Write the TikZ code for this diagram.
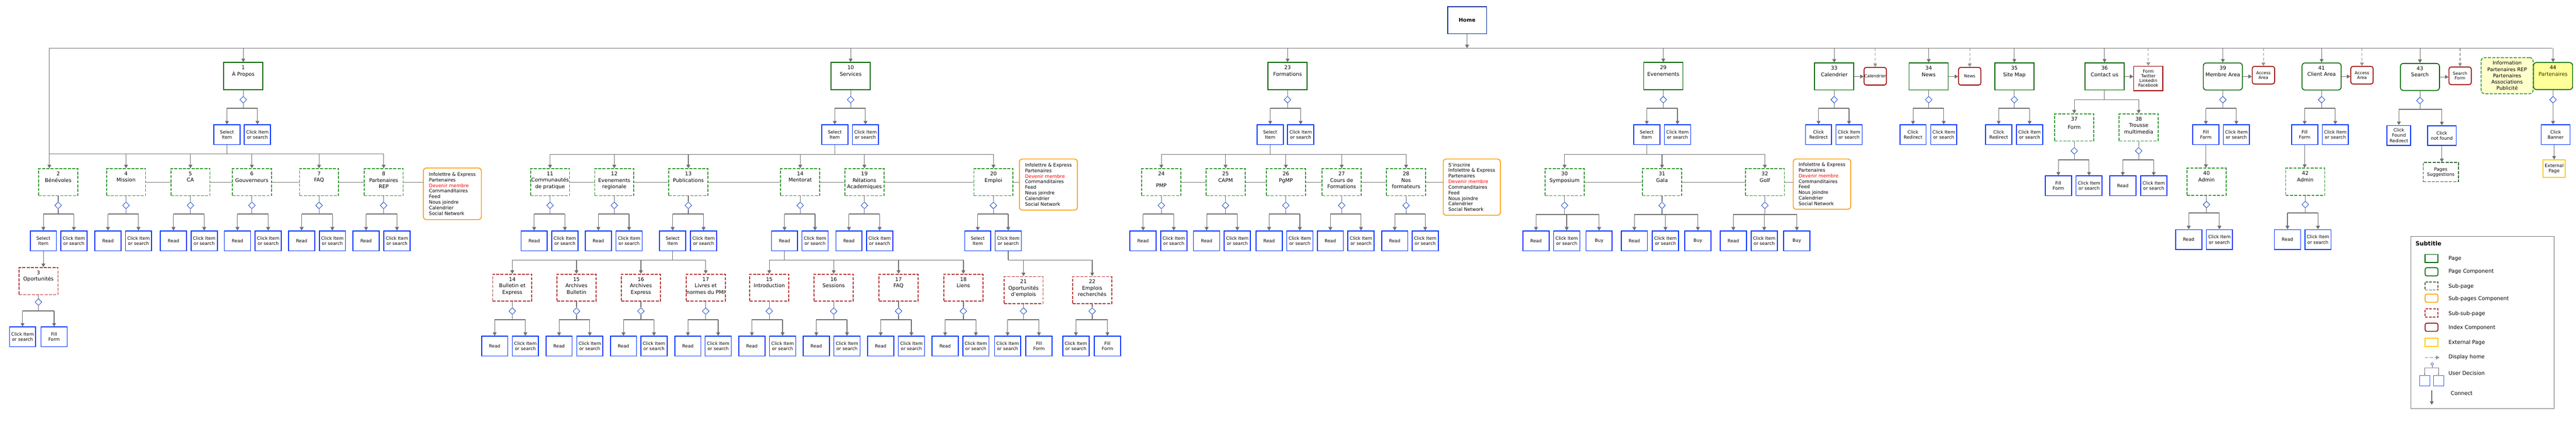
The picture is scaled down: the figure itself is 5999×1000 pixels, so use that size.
\documentclass[tikz,border=0pt]{standalone}
\usepackage{fontspec}
\setmainfont{DejaVu Sans}
\usetikzlibrary{arrows.meta,shapes.geometric}
\definecolor{lgray}{HTML}{6E6E6E}
\definecolor{pgreen}{HTML}{006600}
\definecolor{sgreen}{HTML}{339933}
\definecolor{sred}{HTML}{B83333}
\definecolor{ired}{HTML}{990000}
\definecolor{ablue}{HTML}{0033FF}
\definecolor{dblue}{HTML}{1F4FC8}
\definecolor{hblue}{HTML}{003399}
\definecolor{orng}{HTML}{FF9900}
\definecolor{extc}{HTML}{FFCC00}
\definecolor{pyel}{HTML}{FFFF99}
\definecolor{iyel}{HTML}{FFFFCC}
\definecolor{dgreen}{HTML}{336633}
\definecolor{lgreen}{HTML}{4A6B4A}
\definecolor{olv}{HTML}{333300}
\newcommand\CIs{Click Item\\or search}
\newcommand\SIs{Select\\Item}
\newcommand\FFs{Fill\\Form}
\newcommand\CRs{Click\\Redirect}
\newcommand\orntxt{Infolettre \& Express\\Partenaires\\\textcolor{red}{Devenir membre}\\Commanditaires\\Feed\\Nous joindre\\Calendrier\\Social Network}
\newcommand\bx[5]{\node[#1] (#2) at (#3,#4) {}; \node[ttl] (#2t) at ([yshift=-8pt]#2.north) {#5};}
\newcommand\ac[5][]{\node[act,#1] (#2) at (#3,#4) {#5};}
\newcommand\grp[4]{%
  \node[dia] (#1d) at (#1.south |- 0,#2) {};
  \coordinate (#1b) at (#1.south |- 0,#3);
  \draw[con] (#1.south) -- (#1d.north);
  \draw[con] (#1d.south) -- (#1b);
  \foreach \ch in {#4} {\draw[barl] (#1b) -- (\ch.north |- #1b); \draw[arr] (\ch.north |- #1b) -- (\ch.north);}
}
\newcommand\busl[4]{%
  \coordinate (#4) at (#1.south |- 0,#2);
  \draw[con] (#1.south) -- (#4);
  \foreach \ch in {#3} {\draw[con] (#4) -- (\ch.north |- #4); \draw[arr] (\ch.north |- #4) -- (\ch.north);}
}
\begin{document}
\begin{tikzpicture}[x=1pt,y=-1pt,
  con/.style={draw=lgray, line width=1.4pt},
  arr/.style={con, -{Triangle[length=8pt,width=9pt]}},
  barl/.style={draw=lgray, line width=2.4pt},
  dsh/.style={draw=lgray!75, line width=1.4pt, dash pattern=on 7pt off 4pt, -{Triangle[length=8pt,width=9pt]}},
  dia/.style={diamond, draw=dblue, line width=1.1pt, fill=white, minimum width=16pt, minimum height=16pt, inner sep=0pt},
  pg/.style={draw=pgreen, line width=2pt, minimum width=91pt, minimum height=63pt, inner sep=0pt},
  pgr/.style={pg, rounded corners=7pt},
  sub/.style={pg, draw=sgreen, dash pattern=on 7pt off 3pt},
  ssub/.style={pg, draw=sred, dash pattern=on 7pt off 3pt},
  act/.style={draw=ablue, line width=2pt, minimum width=61pt, minimum height=46pt, inner sep=1pt, align=center, font=\fontsize{10.5}{12.3}\selectfont},
  ttl/.style={anchor=north, align=center, inner sep=0pt, font=\fontsize{12}{15}\selectfont},
  idx/.style={draw=ired, line width=2pt, rounded corners=5pt, minimum width=52pt, minimum height=41pt, inner sep=0pt, align=center, font=\fontsize{9.8}{10.8}\selectfont},
  orn/.style={draw=orng, line width=2pt, rounded corners=7pt, inner sep=0pt, align=left, font=\fontsize{11}{13}\selectfont},
  lsw/.style={line width=2pt, minimum width=30pt, minimum height=19pt, inner sep=0pt},
  ltx/.style={anchor=west, inner sep=0pt, font=\fontsize{12.3}{14}\selectfont}]
\useasboundingbox (0,0) rectangle (5999,1000);

% ---------- Home and top bus
\node[pg, draw=hblue, font=\bfseries\fontsize{12}{14}\selectfont] (home) at (3416.5,47) {Home};
\coordinate (busL) at (115,112);
\coordinate (busR) at (5944,112);
\draw[con] (busL) -- (busR);
\draw[arr] (home.south) -- (home.south |- busL);

% ---------- top level pages
\bx{pg}{p1}{566.5}{177}{1\\À Propos}
\bx{pg}{p10}{1981}{177}{10\\Services}
\bx{pg}{p23}{2998.5}{177}{23\\Formations}
\bx{pg}{p29}{3873.5}{177}{29\\Evenements}
\bx{pg}{p33}{4271.5}{178}{33\\Calendrier}
\bx{pg}{p34}{4491.5}{178}{34\\News}
\bx{pg}{p35}{4691}{178}{35\\Site Map}
\bx{pg}{p36}{4901}{178}{36\\Contact us}
\bx{pgr}{p39}{5176.5}{178}{39\\Membre Area}
\bx{pgr}{p41}{5406.5}{178}{41\\Client Area}
\bx{pgr}{p43}{5635.5}{179}{43\\Search}
\bx{pgr,fill=pyel}{p44}{5945.5}{177}{44\\\textcolor{olv}{Partenaires}}
\foreach \pp in {p1,p10,p23,p29,p33,p34,p35,p36,p39,p41,p43,p44}
  {\draw[arr] (\pp.north |- busL) -- (\pp.north);}

% index components
\node[idx] (i33) at (4367,177.5) {Calendrier};
\node[idx] (i34) at (4587,177.5) {News};
\node[idx, rounded corners=0pt, minimum width=68pt, minimum height=57pt, font=\fontsize{10}{11.1}\selectfont] (i36) at (5003,182.5) {Form\\Twitter\\Linkedin\\Facebook};
\node[idx] (i39) at (5271,175) {Access\\Area};
\node[idx] (i41) at (5500.5,175) {Access\\Area};
\node[idx] (i43) at (5729,176.5) {Search\\Form};
\foreach \pa/\pb in {p33/i33,p34/i34,p36/i36,p39/i39,p41/i41,p43/i43}
  {\draw[arr] (\pa.east) -- (\pa.east -| \pb.west); \draw[dsh] (\pb.north |- busL) -- (\pb.north);}

% information box
\node[draw=sgreen, fill=iyel, line width=2pt, dash pattern=on 7pt off 3pt, rounded corners=8pt, minimum width=121pt, minimum height=84pt, align=center, inner sep=0pt, font=\fontsize{11.7}{14.6}\selectfont] (info) at (5838.5,176) {Information\\Partenaires REP\\Partenaires\\Associations\\Publicité};

% ---------- top level decisions
\ac{a1s}{528.5}{313.5}{\SIs} \ac{a1c}{599.5}{313.5}{\CIs} \grp{p1}{232}{252}{a1s,a1c}
\ac{a10s}{1944}{313.5}{\SIs} \ac{a10c}{2015.5}{313.5}{\CIs} \grp{p10}{232}{252}{a10s,a10c}
\ac{a23s}{2958}{313.5}{\SIs} \ac{a23c}{3029}{313.5}{\CIs} \grp{p23}{232}{252}{a23s,a23c}
\ac{a29s}{3835}{313.5}{\SIs} \ac{a29c}{3906.5}{313.5}{\CIs} \grp{p29}{232}{252}{a29s,a29c}
\ac{a33r}{4235}{313.5}{\CRs} \ac{a33c}{4306}{313.5}{\CIs} \grp{p33}{232}{252}{a33r,a33c}
\ac{a34r}{4455}{313.5}{\CRs} \ac{a34c}{4526.5}{313.5}{\CIs} \grp{p34}{232}{252}{a34r,a34c}
\ac{a35r}{4654.5}{313.5}{\CRs} \ac{a35c}{4726.5}{313.5}{\CIs} \grp{p35}{232}{252}{a35r,a35c}
\ac{a39f}{5137}{313.5}{\FFs} \ac{a39c}{5208}{313.5}{\CIs} \grp{p39}{232}{252}{a39f,a39c}
\ac{a41f}{5367}{313.5}{\FFs} \ac{a41c}{5438.5}{313.5}{\CIs} \grp{p41}{232}{252}{a41f,a41c}
\ac[minimum width=55pt]{a43f}{5586.5}{315}{Click\\Found\\Redirect}
\ac[minimum width=67pt]{a43n}{5686.5}{315.5}{Click\\not found}
\grp{p43}{234}{254}{a43f,a43n}

% Partenaires
\node[dia] (p44d) at (p44.south |- 0,232) {};
\draw[con] (p44.south) -- (p44d.north);
\ac[minimum width=67pt]{a44}{5951.5}{313.5}{Click\\Banner}
\draw[arr] (p44d.south) -- (p44d.south |- a44.north);
\node[draw=extc, line width=2pt, minimum width=52pt, minimum height=41pt, inner sep=0pt, align=center, font=\fontsize{10.5}{12}\selectfont] (ext44) at (5948,392.5) {External\\Page};
\draw[arr] (ext44.north |- a44.south) -- (ext44.north);

% Search suggestions
\node[draw=dgreen, line width=2pt, dash pattern=on 7pt off 3pt, minimum width=82pt, minimum height=45pt, inner sep=0pt, align=center, font=\fontsize{10.5}{12}\selectfont] (psug) at (5684,400.5) {Pages\\Suggestions};
\draw[arr] (a43n.south) -- (a43n.south |- psug.north);

% Contact us
\bx{sub}{s37}{4830.5}{296.5}{37\\[4pt]Form}
\bx{sub}{s38}{4980.5}{296.5}{38\\Trousse\\multimedia}
\coordinate (p36b) at (p36.south |- 0,232);
\draw[con] (p36.south) -- (p36b);
\foreach \ch in {s37,s38} {\draw[con] (p36b) -- (\ch.north |- p36b); \draw[arr] (\ch.north |- p36b) -- (\ch.north);}
\ac{a37f}{4793.5}{432.5}{\FFs} \ac{a37c}{4865}{432.5}{\CIs} \grp{s37}{351}{372}{a37f,a37c}
\ac{a38r}{4943.5}{432.5}{Read} \ac{a38c}{5015.5}{432.5}{\CIs} \grp{s38}{351}{372}{a38r,a38c}

% Admin pages
\bx{sub}{u40}{5138.5}{423}{40\\Admin}
\bx{sub}{u42}{5368.5}{423}{42\\Admin}
\draw[arr] (a39f.south) -- (a39f.south |- u40.north);
\draw[arr] (a41f.south) -- (a41f.south |- u42.north);
\ac{a40r}{5097}{557.5}{Read} \ac{a40c}{5168.5}{557.5}{\CIs} \grp{u40}{476}{496}{a40r,a40c}
\ac{a42r}{5327}{557.5}{Read} \ac{a42c}{5398}{557.5}{\CIs} \grp{u42}{476}{496}{a42r,a42c}

% ---------- second level pages
\bx{sub}{p2}{135.5}{424}{2\\Bénévoles}
\bx{sub}{p4}{293.5}{424}{4\\Mission}
\bx{sub}{p5}{443.5}{424}{5\\CA}
\bx{sub}{p6}{586.5}{424}{6\\Gouverneurs}
\bx{sub}{p7}{743}{424}{7\\FAQ}
\bx{sub}{p8}{893.5}{424}{8\\Partenaires\\REP}
\bx{sub}{p11}{1281}{424}{11\\Communautés\\de pratique}
\bx{sub}{p12}{1430.5}{424}{12\\Evenements\\regionale}
\bx{sub}{p13}{1603}{424}{13\\Publications}
\bx{sub}{p14}{1863.5}{424}{14\\Mentorat}
\bx{sub}{p19}{2013}{424}{19\\Rélations\\Academiques}
\bx{sub}{p20}{2313.5}{424}{20\\Emploi}
\bx{sub}{p24}{2704.5}{424}{24\\[12pt]PMP}
\bx{sub}{p25}{2854}{424}{25\\CAPM}
\bx{sub}{p26}{2994.5}{424}{26\\PgMP}
\bx{sub}{p27}{3124.5}{424}{27\\Cours de\\Formations}
\bx{sub}{p28}{3274.5}{424}{28\\Nos\\formateurs}
\bx{sub}{p30}{3643.5}{424}{30\\Symposium}
\bx{sub}{p31}{3870.5}{424}{31\\Gala}
\bx{sub}{p32}{4110}{424}{32\\Golf}

\node[orn, minimum width=135pt, minimum height=120pt] (o1) at (1053.5,451) {\orntxt};
\node[orn, minimum width=135pt, minimum height=119pt] (o2) at (2441.5,429.5) {\orntxt};
\node[orn, minimum width=133pt, minimum height=131pt] (o3) at (3427.5,435.5) {S’inscrire\\\orntxt};
\node[orn, minimum width=134pt, minimum height=117pt] (o4) at (4243,428.5) {\orntxt};

% buses to second level
\coordinate (bus1) at (a1s.south |- 0,358);
\draw[con] (a1s.south) -- (bus1);
\draw[con] (bus1) -- (busL |- bus1);
\draw[arr] (busL) -- (busL |- p2.north);
\foreach \ch in {p4,p5,p6,p7,p8} {\draw[con] (bus1) -- (\ch.north |- bus1); \draw[arr] (\ch.north |- bus1) -- (\ch.north);}
\busl{a10s}{359}{p11,p12,p13,p14,p19,p20}{bus10}
\busl{a23s}{359}{p24,p25,p26,p27,p28}{bus23}
\busl{a29s}{359}{p30,p31,p32}{bus29}

\foreach \pa/\pb in {p4/p5,p5/p6,p6/p7,p7/p8,p8/o1,p11/p12,p12/p13,p13/p14,p14/p19,p19/p20,p20/o2,p24/p25,p25/p26,p26/p27,p27/p28,p28/o3,p30/p31,p31/p32,p32/o4}
  {\draw[con] (\pa.east) -- (\pa.east -| \pb.west);}

% second level decisions
\ac{a2s}{101}{560.5}{\SIs} \ac{a2c}{172}{560.5}{\CIs} \grp{p2}{478}{498}{a2s,a2c}
\ac{a4r}{251.5}{560.5}{Read} \ac{a4c}{322.5}{560.5}{\CIs} \grp{p4}{478}{498}{a4r,a4c}
\ac{a5r}{404}{560.5}{Read} \ac{a5c}{475.5}{560.5}{\CIs} \grp{p5}{478}{498}{a5r,a5c}
\ac{a6r}{553}{560.5}{Read} \ac{a6c}{624.5}{560.5}{\CIs} \grp{p6}{478}{498}{a6r,a6c}
\ac{a7r}{702.5}{560.5}{Read} \ac{a7c}{774}{560.5}{\CIs} \grp{p7}{478}{498}{a7r,a7c}
\ac{a8r}{852.5}{560.5}{Read} \ac{a8c}{924.5}{560.5}{\CIs} \grp{p8}{478}{498}{a8r,a8c}
\ac{a11r}{1244}{560.5}{Read} \ac{a11c}{1315.5}{560.5}{\CIs} \grp{p11}{478}{498}{a11r,a11c}
\ac{a12r}{1393.5}{560.5}{Read} \ac{a12c}{1465}{560.5}{\CIs} \grp{p12}{478}{498}{a12r,a12c}
\ac{a13s}{1566.5}{560.5}{\SIs} \ac{a13c}{1638.5}{560.5}{\CIs} \grp{p13}{478}{498}{a13s,a13c}
\ac{a14r}{1827}{560.5}{Read} \ac{a14c}{1898}{560.5}{\CIs} \grp{p14}{478}{498}{a14r,a14c}
\ac{a19r}{1977}{560.5}{Read} \ac{a19c}{2048.5}{560.5}{\CIs} \grp{p19}{478}{498}{a19r,a19c}
\ac{a20s}{2277}{560.5}{\SIs} \ac{a20c}{2348}{560.5}{\CIs} \grp{p20}{478}{498}{a20s,a20c}
\ac{a24r}{2662}{560.5}{Read} \ac{a24c}{2733.5}{560.5}{\CIs} \grp{p24}{478}{498}{a24r,a24c}
\ac{a25r}{2810}{560.5}{Read} \ac{a25c}{2881.5}{560.5}{\CIs} \grp{p25}{478}{498}{a25r,a25c}
\ac{a26r}{2955.5}{560.5}{Read} \ac{a26c}{3027}{560.5}{\CIs} \grp{p26}{478}{498}{a26r,a26c}
\ac{a27r}{3098}{560.5}{Read} \ac{a27c}{3169.5}{560.5}{\CIs} \grp{p27}{478}{498}{a27r,a27c}
\ac{a28r}{3248}{560.5}{Read} \ac{a28c}{3319}{560.5}{\CIs} \grp{p28}{478}{498}{a28r,a28c}
\ac{a30r}{3577}{560.5}{Read} \ac{a30c}{3648.5}{560.5}{\CIs} \ac{a30b}{3724}{560.5}{Buy} \grp{p30}{478}{499}{a30r,a30c,a30b}
\ac{a31r}{3806}{560.5}{Read} \ac{a31c}{3878.5}{560.5}{\CIs} \ac{a31b}{3954}{560.5}{Buy} \grp{p31}{478}{499}{a31r,a31c,a31b}
\ac{a32r}{4036.5}{560.5}{Read} \ac{a32c}{4108.5}{560.5}{\CIs} \ac{a32b}{4184.5}{560.5}{Buy} \grp{p32}{478}{499}{a32r,a32c,a32b}

% ---------- third level
\bx{ssub}{s3}{89.5}{654}{3\\Oportunités}
\draw[arr] (a2s.south) -- (a2s.south |- s3.north);
\ac{a3c}{52.5}{784}{\CIs} \ac{a3f}{126}{784}{\FFs} \grp{s3}{703}{723}{a3c,a3f}

\bx{ssub}{q14}{1193}{669.5}{14\\Bulletin et\\Express}
\bx{ssub}{q15}{1342.5}{669.5}{15\\Archives\\Bulletin}
\bx{ssub}{q16}{1492.5}{669.5}{16\\Archives\\Express}
\bx{ssub}{q17}{1643.5}{669.5}{17\\Livres et\\normes du PMI}
\busl{a13s}{605}{q14,q15,q16,q17}{bus13}
\bx{ssub}{r15}{1791.5}{669.5}{15\\Introduction}
\bx{ssub}{r16}{1941.5}{669.5}{16\\Sessions}
\bx{ssub}{r17}{2092.5}{669.5}{17\\FAQ}
\bx{ssub}{r18}{2243.5}{669.5}{18\\Liens}
\busl{a14r}{605}{r15,r16,r17,r18}{bus14}
\bx{ssub}{t21}{2383.5}{675}{21\\Oportunités\\d’emplois}
\bx{ssub}{t22}{2543.5}{675}{22\\Emplois\\recherchés}
\busl{a20c}{605}{t21,t22}{bus20}

\ac{b14r}{1152}{805.5}{Read} \ac{b14c}{1223.5}{805.5}{\CIs} \grp{q14}{724}{744}{b14r,b14c}
\ac{b15r}{1302}{805.5}{Read} \ac{b15c}{1373.5}{805.5}{\CIs} \grp{q15}{724}{744}{b15r,b15c}
\ac{b16r}{1452}{805.5}{Read} \ac{b16c}{1523}{805.5}{\CIs} \grp{q16}{724}{744}{b16r,b16c}
\ac{b17r}{1602}{805.5}{Read} \ac{b17c}{1672.5}{805.5}{\CIs} \grp{q17}{724}{744}{b17r,b17c}
\ac{c15r}{1751}{805.5}{Read} \ac{c15c}{1822.5}{805.5}{\CIs} \grp{r15}{724}{744}{c15r,c15c}
\ac{c16r}{1901}{805.5}{Read} \ac{c16c}{1972.5}{805.5}{\CIs} \grp{r16}{724}{744}{c16r,c16c}
\ac{c17r}{2051}{805.5}{Read} \ac{c17c}{2122.5}{805.5}{\CIs} \grp{r17}{724}{744}{c17r,c17c}
\ac{c18r}{2201}{805.5}{Read} \ac{c18c}{2272.5}{805.5}{\CIs} \grp{r18}{724}{744}{c18r,c18c}
\ac{d21c}{2346.5}{805.5}{\CIs} \ac{d21f}{2419.5}{805.5}{\FFs} \grp{t21}{724}{744}{d21c,d21f}
\ac{d22c}{2505.5}{805.5}{\CIs} \ac{d22f}{2579}{805.5}{\FFs} \grp{t22}{724}{744}{d22c,d22f}

% ---------- legend
\node[draw=lgray, line width=1.5pt, minimum width=334pt, minimum height=401pt, inner sep=0pt] (leg) at (5781,750.5) {};
\node[anchor=west, inner sep=0pt, font=\bfseries\fontsize{13.5}{16}\selectfont] (legt) at (5625,567) {Subtitle};
\node[lsw, draw=pgreen] (lg1) at (5662.5,601.5) {};
\node[lsw, draw=pgreen, rounded corners=4pt] (lg2) at (5662.5,632.5) {};
\node[lsw, draw=lgreen, dash pattern=on 6pt off 3pt] (lg3) at (5662.5,665.5) {};
\node[lsw, draw=orng, rounded corners=4pt] (lg4) at (5662.5,694) {};
\node[lsw, draw=sred, dash pattern=on 6pt off 3pt] (lg5) at (5662.5,728) {};
\node[lsw, draw=ired, rounded corners=4pt] (lg6) at (5662.5,761.5) {};
\node[lsw, draw=extc] (lg7) at (5662.5,796.5) {};
\node[ltx] (lt1) at (5702,602) {Page};
\node[ltx] (lt2) at (5702,632) {Page Component};
\node[ltx] (lt3) at (5702,667) {Sub-page};
\node[ltx] (lt4) at (5702,696) {Sub-pages Component};
\node[ltx] (lt5) at (5702,730) {Sub-sub-page};
\node[ltx] (lt6) at (5702,763) {Index Component};
\node[ltx] (lt7) at (5702,797) {External Page};
\node[ltx] (lt8) at (5702,831) {Display home};
\node[ltx] (lt9) at (5702,868) {User Decision};
\node[ltx] (lt10) at (5707,915) {Connect};
\coordinate (dh1) at (5647,832);
\coordinate (dh2) at (5681,832);
\draw[dsh, dash pattern=on 8pt off 3pt] (dh1) -- (dh2);
\node[dia, minimum width=7pt, minimum height=7pt, line width=0.9pt] (ldia) at (5664,847) {};
\coordinate (ldb) at (5664,856);
\node[draw=ablue!80, line width=1pt, minimum width=24pt, minimum height=25pt, inner sep=0pt] (lub1) at (5646.5,886) {};
\node[draw=ablue!80, line width=1pt, minimum width=24pt, minimum height=25pt, inner sep=0pt] (lub2) at (5678.5,886) {};
\draw[draw=lgray, line width=0.8pt] (ldia.south) -- (ldb);
\foreach \ch in {lub1,lub2} {\draw[draw=lgray!80, line width=1pt] (ldb) -- (\ch.north |- ldb); \draw[draw=lgray, line width=0.8pt, -{Triangle[length=3pt,width=3pt]}] (\ch.north |- ldb) -- (\ch.north);}
\coordinate (lc1) at (5663,908);
\coordinate (lc2) at (5663,942);
\draw[arr] (lc1) -- (lc2);
\end{tikzpicture}
\end{document}
